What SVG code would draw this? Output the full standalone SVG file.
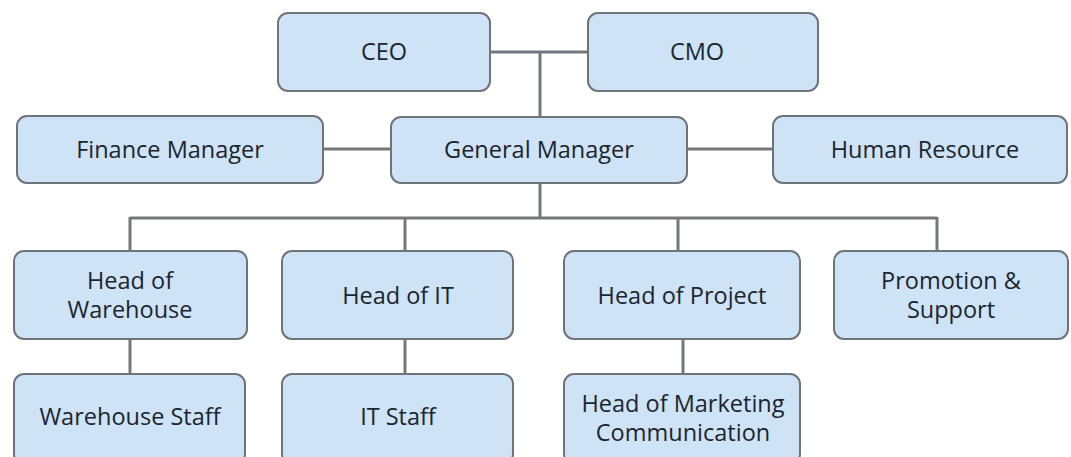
<svg xmlns="http://www.w3.org/2000/svg" width="1071" height="457" viewBox="0 0 1071 457">
<style>
.box{fill:#cfe3f6;stroke:#6f7479;stroke-width:2}
.lbl{font-family:"Open Sans","Noto Sans",sans-serif;font-size:23.5px;fill:#1b2530;text-anchor:middle}
.ln{stroke:#74787c;stroke-width:3;fill:none}
</style>
<rect width="1071" height="457" fill="#ffffff"/>
<g id="connectors">
<path class="ln" d="M490 52H588M540 52V117"/>
<path class="ln" d="M323 149H391M687 149H773"/>
<path class="ln" d="M540 183V218M130 218H937M130 217V251M405 217V251M678 217V251M937 217V251"/>
<path class="ln" d="M130 339V374M405 339V374M683 339V374"/>
</g>
<g id="ceo"><rect class="box" x="278" y="13" width="212" height="78" rx="10"/><text class="lbl" x="384" y="60">CEO</text></g>
<g id="cmo"><rect class="box" x="588" y="13" width="230" height="78" rx="10"/><text class="lbl" x="697" y="60">CMO</text></g>
<g id="finance"><rect class="box" x="17" y="116" width="306" height="67" rx="10"/><text class="lbl" x="170" y="158">Finance Manager</text></g>
<g id="gm"><rect class="box" x="391" y="117" width="296" height="66" rx="10"/><text class="lbl" x="539" y="158">General Manager</text></g>
<g id="hr"><rect class="box" x="773" y="116" width="294" height="67" rx="10"/><text class="lbl" x="925" y="158">Human Resource</text></g>
<g id="head-warehouse"><rect class="box" x="14" y="251" width="233" height="88" rx="10"/><text class="lbl" x="130" y="289">Head of</text><text class="lbl" x="130" y="318">Warehouse</text></g>
<g id="head-it"><rect class="box" x="282" y="251" width="231" height="88" rx="10"/><text class="lbl" x="398" y="304">Head of IT</text></g>
<g id="head-project"><rect class="box" x="564" y="251" width="236" height="88" rx="10"/><text class="lbl" x="682" y="304">Head of Project</text></g>
<g id="promotion"><rect class="box" x="834" y="251" width="234" height="88" rx="10"/><text class="lbl" x="951" y="289">Promotion &amp;</text><text class="lbl" x="951" y="318">Support</text></g>
<g id="warehouse-staff"><rect class="box" x="14" y="374" width="231" height="90" rx="10"/><text class="lbl" x="130" y="425">Warehouse Staff</text></g>
<g id="it-staff"><rect class="box" x="282" y="374" width="231" height="90" rx="10"/><text class="lbl" x="398" y="425">IT Staff</text></g>
<g id="marketing"><rect class="box" x="564" y="374" width="236" height="90" rx="10"/><text class="lbl" x="683" y="412">Head of Marketing</text><text class="lbl" x="683" y="441">Communication</text></g>
</svg>
